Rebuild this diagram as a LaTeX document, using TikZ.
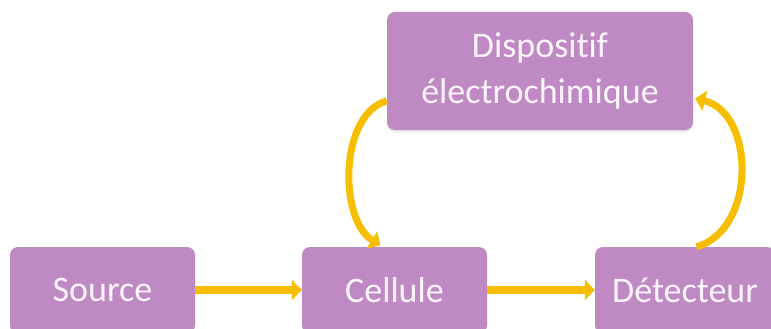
\documentclass[tikz,border=0pt]{standalone}
\usepackage{fontspec}
\setmainfont[Ligatures=CommonOff]{Carlito}
\usetikzlibrary{arrows.meta,shadows}
\definecolor{boxfill}{RGB}{191,138,196}
\definecolor{boxtext}{RGB}{252,244,252}
\definecolor{flow}{RGB}{247,190,0}
\begin{document}
\begin{tikzpicture}[x=1pt,y=-1pt,
  stage/.style={draw=none, fill=boxfill, rounded corners=8pt,
    text=boxtext, font=\fontsize{36}{46}\selectfont, align=center,
    inner sep=0pt, drop shadow={opacity=0.18, shadow xshift=0pt, shadow yshift=-2pt}},
  flowarrow/.style={draw=flow, line width=8pt,
    -{Triangle[length=10pt,width=20pt]}}]
  % fixed canvas
  \useasboundingbox (0,0) rectangle (771,329);
  \fill[white] (0,0) rectangle (771,329);
  % process boxes
  \node[stage, minimum width=306pt, minimum height=118pt] (disp) at (540,71)
    {Dispositif\\électrochimique};
  \node[stage, minimum width=185pt, minimum height=86pt] (src) at (102.5,290) {Source};
  \node[stage, minimum width=185pt, minimum height=86pt] (cell) at (394.5,290) {Cellule};
  \node[stage, minimum width=180pt, minimum height=86pt] (det) at (685,290) {Détecteur};
  % straight flow
  \draw[flowarrow] (src) -- (cell);
  \draw[flowarrow] (cell) -- (det);
  % feedback loop through the electrochemical device
  \draw[flowarrow, line width=7pt, shorten >=3pt]
    (disp.191) .. controls +(-48,14) and +(-44,-27) .. (cell.105);
  \draw[flowarrow, line width=7pt, shorten >=2pt]
    (det.75) .. controls +(60,-17) and +(62,15) .. (disp.-10);
\end{tikzpicture}
\end{document}
